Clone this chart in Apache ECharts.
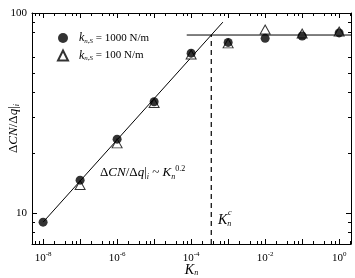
<!DOCTYPE html>
<html><head><meta charset="utf-8">
<script src="https://cdn.jsdelivr.net/npm/echarts@6/dist/echarts.min.js"></script>
<style>html,body{margin:0;padding:0;background:#fff}#c{width:355px;height:278px}</style>
</head><body><div id="c"></div>
<script>
// ---- data ----
const knValues = [1e-8, 1e-7, 1e-6, 1e-5, 1e-4, 1e-3, 1e-2, 1e-1, 1];
const cn1000 = [9.0, 14.6, 23.4, 36.0, 63.0, 71.3, 74.7, 76.7, 79.5];
const cn100 = [null, 13.8, 22.3, 35.5, 62.0, 70.5, 82.7, 79.0, 80.8];
const fitLine = [[1e-8, 9.0], [7.2e-4, 90]];
const plateauLine = [[7.6e-5, 77.6], [2.1, 77.6]];
const criticalLine = [[3.5e-4, 7], [3.5e-4, 77.6]];
const xMajorTicks = [1e-8, 1e-7, 1e-6, 1e-5, 1e-4, 1e-3, 1e-2, 1e-1, 1];
const xMinorMultipliers = [2, 4, 6, 8];
const yMajorTicks = [10, 100];
const yMinorTicks = [8, 9, 20, 30, 40, 50, 60, 80, 90];
const xRange = [Math.pow(10, -8.3), Math.pow(10, 0.32)];
const yRange = [7, 100];

const SERIF = '"Liberation Serif", "DejaVu Serif", serif';
const xMinorTicks = [];
[1e-9].concat(xMajorTicks).forEach(d => xMinorMultipliers.forEach(m => {
  const v = d * m; if (v > xRange[0] && v < xRange[1]) xMinorTicks.push(v);
}));

function decoAxis(pos, range, ticks, len, showLine) {
  return {
    type: 'value', position: pos,
    min: Math.log10(range[0]), max: Math.log10(range[1]),
    axisLine: { show: showLine, onZero: false, lineStyle: { color: '#000', width: 1 } },
    axisTick: { show: true, inside: true, length: len, customValues: ticks.map(v => Math.log10(v)),
      lineStyle: { color: '#000', width: 1 } },
    axisLabel: { show: false }, splitLine: { show: false }, silent: true
  };
}
function isDecade(v) { const l = Math.log10(v); return Math.abs(l - Math.round(l)) < 1e-6; }

const chart = echarts.init(document.getElementById('c'), null, { renderer: 'canvas' });
const subStyle = { fontSize: 8, fontStyle: 'italic', fontFamily: SERIF, color: '#000', padding: [6, 0, 0, 0] };
chart.setOption({
  animation: false,
  grid: { left: 32, right: 4, top: 13, bottom: 34, outerBoundsMode: 'none', containLabel: false },
  xAxis: [
    {
      type: 'log', logBase: 10, position: 'bottom', min: xRange[0], max: xRange[1],
      axisLine: { show: true, onZero: false, lineStyle: { color: '#000', width: 1 } },
      axisTick: { show: false }, splitLine: { show: false }, minorTick: { show: false },
      axisLabel: {
        margin: 7, color: '#000',
        formatter: v => {
          if (!isDecade(v)) return '';
          const e = Math.round(Math.log10(v));
          if (e % 2 !== 0) return '';
          return '{b|10}{s|' + e + '}';
        },
        rich: { b: { fontSize: 11, fontFamily: SERIF, color: '#000' }, s: { fontSize: 7, fontFamily: SERIF, color: '#000', padding: [0, 0, 7, 0] } }
      },
      name: '{i|K}{sub|n}', nameLocation: 'middle', nameGap: 26, nameMoveOverlap: false,
      nameTextStyle: { fontFamily: SERIF, fontSize: 14, color: '#000', verticalAlign: 'middle',
        rich: { i: { fontStyle: 'italic', fontSize: 14, fontFamily: SERIF, color: '#000' }, sub: subStyle } }
    },
    decoAxis('bottom', xRange, xMajorTicks, 5, false),
    decoAxis('bottom', xRange, xMinorTicks, 3, false),
    decoAxis('top', xRange, xMajorTicks, 5, true),
    decoAxis('top', xRange, xMinorTicks, 3, false)
  ],
  yAxis: [
    {
      type: 'log', logBase: 10, position: 'left', min: yRange[0], max: yRange[1],
      axisLine: { show: true, onZero: false, lineStyle: { color: '#000', width: 1 } },
      axisTick: { show: false }, splitLine: { show: false }, minorTick: { show: false },
      axisLabel: { margin: 5, color: '#000', fontSize: 11, fontFamily: SERIF,
        formatter: v => (isDecade(v) ? String(Math.round(v)) : '') },
      name: '{r|Δ}{i|CN}{r|/Δ}{i|q}{r||}{sub|i}', nameLocation: 'middle', nameRotate: 90, nameGap: 18,
      nameMoveOverlap: false,
      nameTextStyle: { fontFamily: SERIF, fontSize: 13, color: '#000', verticalAlign: 'middle',
        rich: { r: { fontSize: 13, fontFamily: SERIF, color: '#000' },
                i: { fontStyle: 'italic', fontSize: 13, fontFamily: SERIF, color: '#000' }, sub: subStyle } }
    },
    decoAxis('left', yRange, yMajorTicks, 5, false),
    decoAxis('left', yRange, yMinorTicks, 3, false),
    decoAxis('right', yRange, yMajorTicks, 5, true),
    decoAxis('right', yRange, yMinorTicks, 3, false)
  ],
  legend: {
    data: ['ks1000', 'ks100'], orient: 'vertical', left: 57, top: 32,
    itemWidth: 10, itemHeight: 10, itemGap: 5, padding: 0,
    formatter: n => '{g|}{i|k}{sub|n,S}{r| = ' + (n === 'ks1000' ? '1000' : '100') + ' N/m}',
    textStyle: { fontFamily: SERIF, fontSize: 11, color: '#000',
      rich: { g: { width: 6 },
              i: { fontStyle: 'italic', fontSize: 12, fontFamily: SERIF, color: '#000' },
              sub: { fontSize: 7, fontStyle: 'italic', fontFamily: SERIF, color: '#000', padding: [6, 0, 0, 0] },
              r: { fontSize: 11, fontFamily: SERIF, color: '#000' } } }
  },
  graphic: [
    { type: 'text', x: 100, y: 173, silent: true,
      style: { text: '{r|Δ}{i|CN}{r|/Δ}{i|q}{r||}{sub|i}{r| ~ }{i|K}{sub|n}{sup|0.2}', verticalAlign: 'middle',
        font: '13px ' + SERIF, fill: '#000',
        rich: { r: { fontSize: 13, fontFamily: SERIF }, i: { fontSize: 13, fontStyle: 'italic', fontFamily: SERIF },
                sub: { fontSize: 8, fontStyle: 'italic', fontFamily: SERIF, padding: [7, 0, 0, 0] },
                sup: { fontSize: 8, fontFamily: SERIF, padding: [0, 0, 9, 0] } } } },
    { type: 'text', x: 218, y: 220, silent: true,
      style: { text: '{i|K}{sub|n}', verticalAlign: 'middle', font: '13px ' + SERIF, fill: '#000',
        rich: { i: { fontSize: 14, fontStyle: 'italic', fontFamily: SERIF },
                sub: { fontSize: 8, fontStyle: 'italic', fontFamily: SERIF, padding: [8, 0, 0, 0] } } } },
    { type: 'text', x: 228, y: 213, silent: true,
      style: { text: 'c', verticalAlign: 'middle', font: 'italic 8px ' + SERIF, fill: '#000' } }
  ],
  series: [
    { name: 'fit', type: 'line', data: fitLine, symbol: 'none', silent: true,
      lineStyle: { color: '#000', width: 1 }, z: 1 },
    { name: 'plateau', type: 'line', data: plateauLine, symbol: 'none', silent: true,
      lineStyle: { color: '#000', width: 1 }, z: 1 },
    { name: 'critical', type: 'line', data: criticalLine, symbol: 'none', silent: true,
      lineStyle: { color: '#000', width: 1.2, type: [5, 4] }, z: 1 },
    { name: 'ks100', type: 'scatter', symbol: 'triangle', symbolSize: [10, 9],
      data: knValues.map((x, i) => [x, cn100[i]]).filter(p => p[1] != null),
      itemStyle: { color: '#fff', borderColor: '#000', borderWidth: 1 }, z: 2 },
    { name: 'ks1000', type: 'scatter', symbol: 'circle', symbolSize: 9,
      data: knValues.map((x, i) => [x, cn1000[i]]),
      itemStyle: { color: '#000' }, z: 3 }
  ]
});
</script></body></html>
